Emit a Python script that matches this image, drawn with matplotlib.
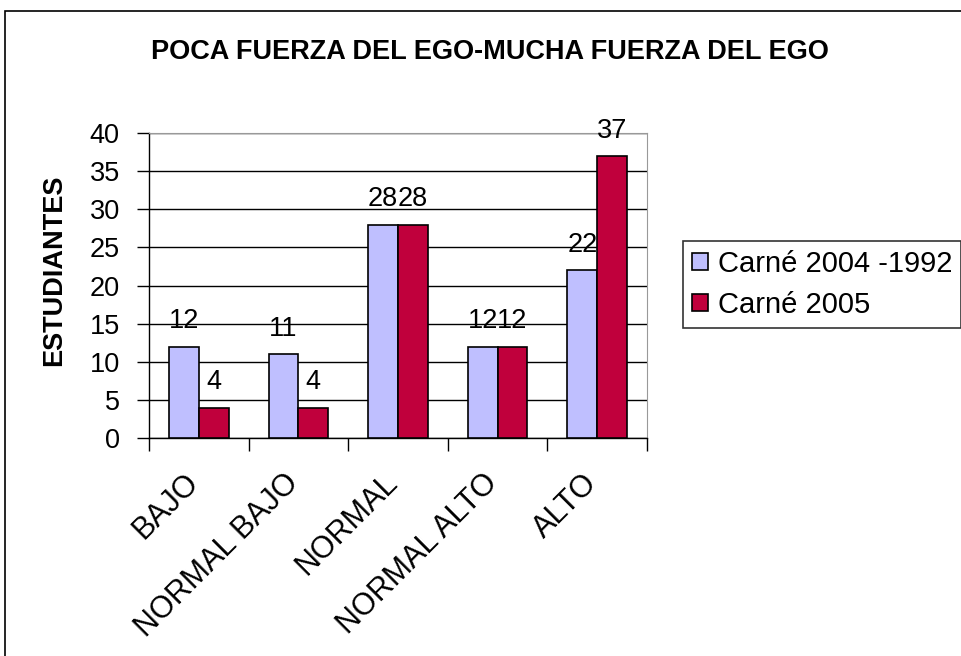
import matplotlib
matplotlib.use("Agg")
import matplotlib.pyplot as plt
from matplotlib.patches import Rectangle
from matplotlib.transforms import ScaledTranslation
import numpy as np

plt.rcParams['font.family'] = ['Liberation Sans', 'DejaVu Sans']

categories = ["BAJO", "NORMAL BAJO", "NORMAL", "NORMAL ALTO", "ALTO"]
series_names = ["Carné 2004 -1992", "Carné 2005"]
values_a = [12, 11, 28, 12, 22]
values_b = [4, 4, 28, 12, 37]
colors = ["#BFBFFF", "#C0003C"]

FS = 19.5

fig = plt.figure(figsize=(9.61, 6.56), dpi=100)
fig.patches.append(Rectangle((5/961, -0.1), 1.2, 1 - 11/656 + 0.1, transform=fig.transFigure,
                             fill=False, edgecolor='black', linewidth=1.2, zorder=0))

ax = fig.add_axes([149/961, 1 - 438/656, (647-149)/961, (438-133)/656])
x = np.arange(len(categories))
w = 0.3
bars_a = ax.bar(x - w/2, values_a, w, color=colors[0], edgecolor='black', linewidth=1.2, label=series_names[0], zorder=3)
bars_b = ax.bar(x + w/2, values_b, w, color=colors[1], edgecolor='black', linewidth=1.2, label=series_names[1], zorder=3)

for bars in (bars_a, bars_b):
    for b in bars:
        ax.text(b.get_x() + b.get_width()/2, b.get_height() + 2.4, f"{int(b.get_height())}",
                ha='center', va='baseline', fontsize=FS, zorder=5)

ax.set_xlim(-0.5, len(categories) - 0.5)
ax.set_ylim(0, 40)
ax.set_yticks(range(0, 41, 5))
ax.tick_params(axis='y', labelsize=FS, direction='out', length=9, width=1, pad=12)
ax.set_xticks(np.arange(-0.5, len(categories), 1), minor=False)
ax.set_xticklabels([])
ax.set_xticks(x, minor=True)
ax.set_xticklabels(categories, minor=True, rotation=45, ha='right', rotation_mode='anchor', fontsize=22)
ax.tick_params(axis='x', which='minor', length=0, pad=10)
ax.tick_params(axis='x', which='major', direction='out', length=9, width=1)
shift = ScaledTranslation(-15/100, -16/100, fig.dpi_scale_trans)
for lab in ax.get_xticklabels(minor=True):
    lab.set_transform(lab.get_transform() + shift)
ax.yaxis.grid(True, color='black', linewidth=1)
ax.set_axisbelow(True)
for s in ('top', 'right'):
    ax.spines[s].set_color('#999999')
ax.spines['left'].set_linewidth(1)
ax.spines['bottom'].set_linewidth(1)

ax.set_ylabel("ESTUDIANTES", fontsize=FS, fontweight='bold')
ax.yaxis.set_label_coords((67 - 149) / 498, 0.55)
fig.text(490/961, 1 - 52/656, "POCA FUERZA DEL EGO-MUCHA FUERZA DEL EGO", ha='center', va='center',
         fontsize=FS, fontweight='bold')

leg = fig.legend(handles=[bars_a, bars_b], labels=series_names, loc='upper left',
                 bbox_to_anchor=(683/961, 1 - 241/656), fontsize=21, frameon=True,
                 fancybox=False, edgecolor='black', handlelength=0.55, handleheight=0.55,
                 handletextpad=0.35, borderpad=0.3, labelspacing=0.45, borderaxespad=0)
leg.get_frame().set_linewidth(1.2)

fig.savefig("out.png", dpi=100)
